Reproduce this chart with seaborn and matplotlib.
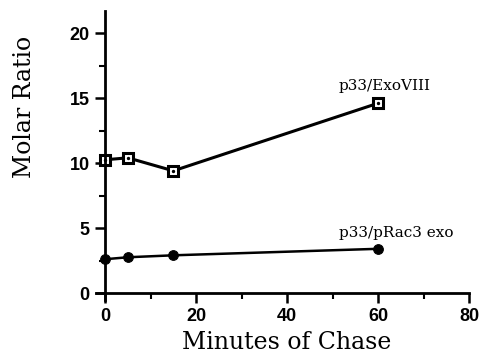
import pandas as pd
import matplotlib
matplotlib.use("Agg")
import matplotlib.pyplot as plt
import seaborn as sns
from matplotlib.ticker import MultipleLocator

minutes = [0, 5, 15, 60]
exo8_ratio = [10.25, 10.4, 9.4, 14.6]
prac3_ratio = [2.6, 2.75, 2.9, 3.4]

df = pd.DataFrame({
    'minutes': minutes * 2,
    'ratio': exo8_ratio + prac3_ratio,
    'series': ['p33/ExoVIII'] * 4 + ['p33/pRac3 exo'] * 4,
})

sns.set_style('ticks', {'axes.edgecolor': 'black', 'xtick.color': 'black',
                        'ytick.color': 'black', 'text.color': 'black'})
serif = ['DejaVu Serif']
sans = ['Liberation Sans', 'DejaVu Sans']

fig = plt.figure(figsize=(4.81, 3.58), dpi=100)
ax = fig.add_axes([0.1996, 0.1634, 0.7755, 0.806])

exo = df[df.series == 'p33/ExoVIII']
rac = df[df.series == 'p33/pRac3 exo']
sns.lineplot(data=exo, x='minutes', y='ratio', ax=ax, color='black', lw=2.2,
             marker='s', markersize=7, markerfacecolor='white',
             markeredgecolor='black', markeredgewidth=2.2)
ax.scatter(exo.minutes, exo.ratio, s=2, color='black', zorder=5)
sns.lineplot(data=rac, x='minutes', y='ratio', ax=ax, color='black', lw=1.8,
             marker='o', markersize=7, markerfacecolor='black',
             markeredgecolor='black')

ax.set_xlim(-2, 80)
ax.set_ylim(-0.5, 21.7)
ax.spines['left'].set_position(('data', 0))
ax.spines['bottom'].set_position(('data', 0))
ax.spines['top'].set_visible(False)
ax.spines['right'].set_visible(False)
ax.spines['left'].set_linewidth(2)
ax.spines['bottom'].set_linewidth(2)

ax.xaxis.set_major_locator(MultipleLocator(20))
ax.xaxis.set_minor_locator(MultipleLocator(10))
ax.yaxis.set_major_locator(MultipleLocator(5))
ax.yaxis.set_minor_locator(MultipleLocator(2.5))
ax.tick_params(which='major', direction='out', length=7, width=1.8, labelsize=13,
               pad=4, colors='black')
ax.tick_params(which='minor', direction='out', length=4, width=1.5, colors='black')
for lab in ax.get_xticklabels() + ax.get_yticklabels():
    lab.set_family(sans)
    lab.set_fontweight('bold')

ax.set_xlabel('')
ax.set_ylabel('')
fig.text(0.596, 0.012, 'Minutes of Chase', family=serif, fontsize=17,
         color='black', ha='center', va='bottom')
fig.text(0.05, 0.70, 'Molar Ratio', family=serif, fontsize=17, color='black',
         ha='center', va='center', rotation=90)

ax.text(51.4, 15.4, 'p33/ExoVIII', family=serif, fontsize=11, color='black',
        ha='left', va='bottom')
ax.text(51.4, 4.1, 'p33/pRac3 exo', family=serif, fontsize=11, color='black',
        ha='left', va='bottom')

fig.savefig('out.png', dpi=100)
